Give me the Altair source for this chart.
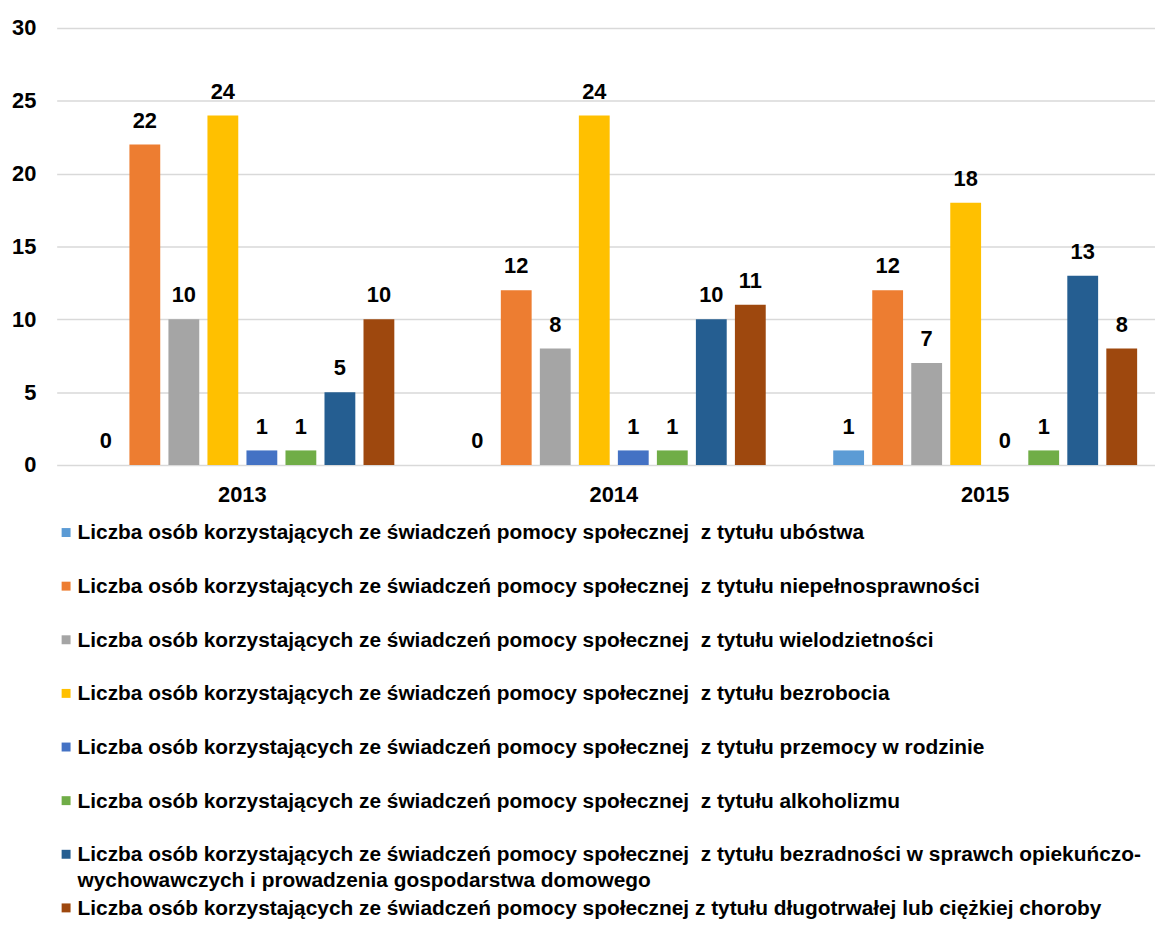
import altair as alt
import pandas as pd

years = ["2013", "2014", "2015"]
categories = [
    "Liczba osób korzystających ze świadczeń pomocy społecznej\u00a0 z tytułu ubóstwa",
    "Liczba osób korzystających ze świadczeń pomocy społecznej\u00a0 z tytułu niepełnosprawności",
    "Liczba osób korzystających ze świadczeń pomocy społecznej\u00a0 z tytułu wielodzietności",
    "Liczba osób korzystających ze świadczeń pomocy społecznej\u00a0 z tytułu bezrobocia",
    "Liczba osób korzystających ze świadczeń pomocy społecznej\u00a0 z tytułu przemocy w rodzinie",
    "Liczba osób korzystających ze świadczeń pomocy społecznej\u00a0 z tytułu alkoholizmu",
    "Liczba osób korzystających ze świadczeń pomocy społecznej\u00a0 z tytułu bezradności w sprawch opiekuńczo-\nwychowawczych i prowadzenia gospodarstwa domowego",
    "Liczba osób korzystających ze świadczeń pomocy społecznej z tytułu długotrwałej lub ciężkiej choroby",
]
values_2013 = [0, 22, 10, 24, 1, 1, 5, 10]
values_2014 = [0, 12, 8, 24, 1, 1, 10, 11]
values_2015 = [1, 12, 7, 18, 0, 1, 13, 8]
colors = ["#5B9BD5", "#ED7D31", "#A5A5A5", "#FFC000", "#4472C4", "#70AD47", "#255E91", "#9E480E"]

rows = []
for y, vals in zip(years, [values_2013, values_2014, values_2015]):
    for i, (c, v) in enumerate(zip(categories, vals)):
        rows.append({"year": y, "cat": c, "idx": i, "value": v})
df = pd.DataFrame(rows)
leg = pd.DataFrame({"cat": categories, "idx": list(range(len(categories)))})

FONT = "Liberation Sans"
color = alt.Color("cat:N", scale=alt.Scale(domain=categories, range=colors), legend=None)

x = alt.X("year:N", title=None,
          scale=alt.Scale(domain=years, range=[0, 1122], paddingInner=0, paddingOuter=0),
          axis=alt.Axis(labelAngle=0, labelFont=FONT, labelFontSize=22, labelFontWeight="bold",
                        labelColor="#000000", domain=False, ticks=False, labelPadding=20))
xo = alt.XOffset("cat:N", sort=categories,
                 scale=alt.Scale(domain=categories, paddingInner=0.21, paddingOuter=0.865))
y = alt.Y("value:Q", title=None,
          scale=alt.Scale(domain=[0, 30]),
          axis=alt.Axis(values=[0, 5, 10, 15, 20, 25, 30], labelFont=FONT, labelFontSize=22,
                        labelFontWeight="bold", labelColor="#000000", domain=False, ticks=False,
                        labelPadding=21, gridColor="#d9d9d9", gridWidth=1.5))

bars = alt.Chart(df).mark_bar().encode(x=x, xOffset=xo, y=y, color=color)
labels = alt.Chart(df).mark_text(font=FONT, fontSize=22, fontWeight="bold", color="#000000",
                                 baseline="alphabetic", dy=-17).encode(
    x=x, xOffset=xo, y=y, text=alt.Text("value:Q"))

ly = alt.Y("idx:Q", scale=alt.Scale(domain=[0, 7], range=[508, 886]), axis=None)
leg_sq = alt.Chart(leg).mark_square(size=81, opacity=1).encode(
    x=alt.value(9.5), y=ly, color=color)
leg_tx = alt.Chart(leg).mark_text(font=FONT, fontSize=21, fontWeight="bold", color="#000000",
                                  align="left", baseline="alphabetic", dy=7,
                                  lineBreak="\n", lineHeight=26).encode(
    x=alt.value(21), y=ly, text="cat:N")

main = alt.layer(bars, labels)
chart = alt.layer(main, alt.layer(leg_sq, leg_tx)).resolve_scale(y="independent").properties(
    width=1106, height=440,
    autosize=alt.AutoSizeParams(type="none"),
    padding={"left": 49, "top": 17, "right": 0, "bottom": 455},
).configure_view(stroke=None)

chart.save("out.html", embed_options={"renderer": "svg", "actions": False})
